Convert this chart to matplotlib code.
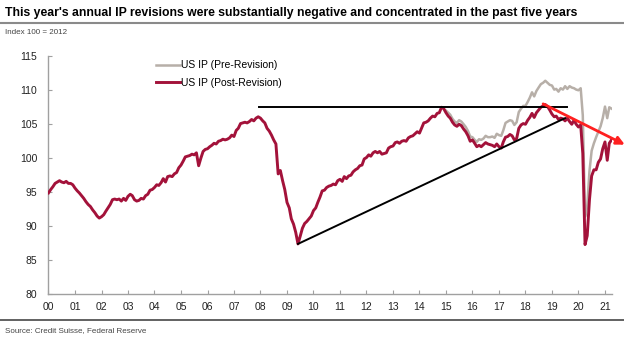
import pandas as pd
import matplotlib.pyplot as plt
from matplotlib.lines import Line2D

# US industrial production, index 2012 = 100, monthly from Jan 2000
post_revision = [
    94.8, 95.3, 95.7, 96.2, 96.4, 96.6, 96.4, 96.3, 96.5, 96.2, 96.2, 96.0,
    95.5, 95.1, 94.8, 94.4, 94.0, 93.5, 93.1, 92.8, 92.3, 91.9, 91.4, 91.1,
    91.3, 91.6, 92.1, 92.6, 93.1, 93.8, 93.9, 93.8, 93.9, 93.6, 94.0, 93.7,
    94.3, 94.6, 94.4, 93.8, 93.6, 93.7, 94.0, 93.9, 94.4, 94.6, 95.2, 95.3,
    95.6, 96.0, 95.9, 96.3, 96.9, 96.4, 97.2, 97.3, 97.2, 97.6, 97.8, 98.5,
    98.9, 99.5, 100.1, 100.2, 100.3, 100.5, 100.4, 100.7, 98.8, 99.9, 100.9, 101.2,
    101.3, 101.6, 101.8, 102.1, 102.0, 102.4, 102.5, 102.7, 102.6, 102.7, 102.9, 103.3,
    103.1, 104.0, 104.3, 105.0, 105.1, 105.2, 105.1, 105.3, 105.6, 105.4, 105.8, 106.0,
    105.8, 105.4, 105.1, 104.3, 103.9, 103.3, 102.6, 102.0, 97.6, 98.1, 96.6, 95.3,
    93.4, 92.6, 91.0, 90.2, 89.0, 87.3, 88.4, 89.6, 90.3, 90.6, 91.0, 91.4,
    92.2, 92.6, 93.4, 94.2, 95.1, 95.2, 95.6, 95.8, 95.9, 96.1, 96.0, 96.6,
    96.8, 96.5, 97.2, 96.9, 97.3, 97.4, 97.9, 98.2, 98.4, 98.8, 98.9, 99.8,
    100.0, 100.4, 100.2, 100.7, 100.9, 100.7, 100.9, 100.5, 100.6, 100.7, 101.4, 101.6,
    101.7, 102.2, 102.3, 102.1, 102.4, 102.5, 102.4, 102.9, 103.1, 103.2, 103.5, 103.8,
    103.6, 104.4, 105.1, 105.2, 105.4, 105.8, 106.1, 106.0, 106.5, 106.6, 107.4, 107.2,
    106.6, 106.1, 105.8, 105.2, 104.8, 104.6, 104.9, 104.7, 104.2, 103.8, 103.2, 102.4,
    102.6, 102.1, 101.6, 101.8, 101.6, 101.9, 102.2, 102.0, 101.9, 101.8, 101.6, 102.0,
    101.6, 101.4, 102.3, 103.0, 103.1, 103.4, 103.2, 102.6, 102.8, 104.3, 104.8, 105.0,
    104.9, 105.5, 105.9, 106.5, 105.9, 106.6, 107.0, 107.4, 107.6, 107.8, 107.5, 107.0,
    106.4, 106.0, 106.1, 105.6, 105.8, 105.7, 105.4, 105.8, 105.3, 104.9, 105.5, 104.9,
    104.5, 104.8, 100.6, 87.2, 88.5, 93.8, 97.3, 98.2, 98.2, 99.3, 99.8, 101.3,
    102.3, 99.6, 102.1, 102.6,
]

# pre-revision vintage, monthly from Jan 2015 (identical before)
pre_revision = [
    106.9, 106.6, 106.3, 105.7, 105.3, 105.1, 105.5, 105.3, 104.9, 104.5, 103.9, 103.1,
    103.0, 102.6, 102.3, 102.7, 102.6, 102.8, 103.2, 103.0, 103.0, 103.1, 102.9, 103.5,
    103.3, 103.2, 104.0, 105.1, 105.3, 105.5, 105.4, 104.8, 105.2, 106.7, 107.2, 107.6,
    107.6, 108.2, 108.8, 109.6, 109.0, 109.8, 110.3, 110.8, 111.0, 111.3, 111.0, 110.7,
    110.6, 110.0, 110.1, 109.7, 110.2, 110.0, 110.5, 110.1, 110.5, 110.3, 110.2, 110.0,
    109.9, 110.2, 106.2, 91.3, 92.8, 98.0, 101.0, 102.1, 103.0, 103.8, 104.6, 105.8,
    107.5, 105.8, 107.4, 107.2,
]

# hand-drawn annotation lines (start / end)
resistance_dates = ["2007-12-15", "2019-08-01"]
resistance_values = [107.4, 107.4]
support_dates = ["2009-06-01", "2019-07-01"]
support_values = [87.3, 105.8]
arrow_dates = ["2018-09-01", "2021-10-01"]
arrow_values = [107.9, 101.9]

year_labels = [f"{y % 100:02d}" for y in range(2000, 2022)]

post_dates = pd.date_range("2000-01-01", periods=len(post_revision), freq="MS")
pre_dates = pd.date_range("2015-01-01", periods=len(pre_revision), freq="MS")

plt.rcParams["font.family"] = ["Liberation Sans", "DejaVu Sans"]

fig = plt.figure(figsize=(6.24, 3.37), dpi=100)
ax = fig.add_axes([0.0777, 0.129, 0.9023, 0.706])

red = "#A3123A"
grey = "#B7AFA8"

ax.plot(pre_dates, pre_revision, color=grey, lw=1.8, zorder=2)
ax.plot(post_dates, post_revision, color=red, lw=2.1, zorder=3)

ax.plot(pd.to_datetime(resistance_dates), resistance_values, color="black", lw=1.4, zorder=4)
ax.plot(pd.to_datetime(support_dates), support_values, color="black", lw=1.4, zorder=4)
ax.annotate("", xy=(pd.Timestamp(arrow_dates[1]), arrow_values[1]),
            xytext=(pd.Timestamp(arrow_dates[0]), arrow_values[0]),
            arrowprops=dict(arrowstyle="-|>", color="#FF2020", lw=2.0,
                            mutation_scale=12, shrinkA=0, shrinkB=0),
            annotation_clip=False, zorder=5)

ax.set_ylim(80, 115)
ax.set_yticks(range(80, 116, 5))
ax.set_xlim(pd.Timestamp("2000-01-01"), pd.Timestamp("2021-04-01"))
ax.set_xticks(pd.date_range("2000-01-01", "2021-01-01", freq="YS"))
ax.set_xticklabels(year_labels)

for s in ["top", "right"]:
    ax.spines[s].set_visible(False)
for s in ["left", "bottom"]:
    ax.spines[s].set_color("#A0A0A0")
    ax.spines[s].set_linewidth(1.0)
ax.tick_params(axis="both", direction="in", length=3, width=0.8, color="#A0A0A0",
               labelsize=7.5, labelcolor="#222222")
ax.tick_params(axis="x", pad=6)
ax.tick_params(axis="y", pad=8)

handles = [Line2D([], [], color=grey, lw=1.8), Line2D([], [], color=red, lw=2.1)]
ax.legend(handles, ["US IP (Pre-Revision)", "US IP (Post-Revision)"],
          loc="upper left", bbox_to_anchor=(0.175, 1.02), frameon=False,
          fontsize=7.5, handlelength=2.3, handletextpad=0.1, labelspacing=0.75)

fig.text(0.008, 0.962, "This year's annual IP revisions were substantially negative and "
         "concentrated in the past five years", fontsize=8.8, fontweight="bold",
         ha="left", va="center", color="black")
fig.add_artist(Line2D([0, 1], [0.932, 0.932], color="#8A8A8A", lw=1.5))
fig.text(0.008, 0.905, "Index 100 = 2012", fontsize=5.8, color="#444444", va="center")
fig.add_artist(Line2D([0, 1], [0.05, 0.05], color="#555555", lw=1.3))
fig.text(0.008, 0.018, "Source: Credit Suisse, Federal Reserve", fontsize=5.8,
         color="#444444", va="center")

fig.savefig("out.png", dpi=100)
